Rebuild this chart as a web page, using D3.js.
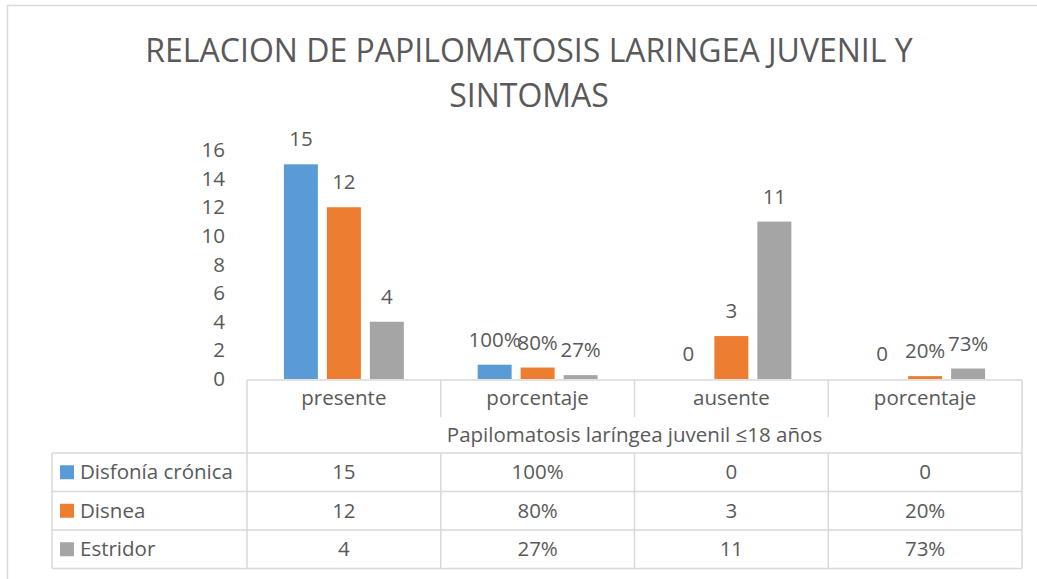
<!DOCTYPE html>
<html>
<head>
<meta charset="utf-8">
<style>
  body { margin: 0; background: #fff; }
  text { font-family: 'Open Sans', sans-serif; fill: #595959; }
</style>
</head>
<body>
<div id="chartContainer"></div>
<script src="https://cdn.jsdelivr.net/npm/d3@7"></script>
<script type="text/javascript">
  // data
  var categories = ["presente", "porcentaje", "ausente", "porcentaje"];
  var seriesNames = ["Disfonía crónica", "Disnea", "Estridor"];
  var seriesColors = ["#5B9BD5", "#ED7D31", "#A5A5A5"];
  var disfonia = [15, 1, 0, 0];
  var disnea = [12, 0.8, 3, 0.2];
  var estridor = [4, 0.27, 11, 0.73];
  var disfoniaLabels = ["15", "100%", "0", "0"];
  var disneaLabels = ["12", "80%", "3", "20%"];
  var estridorLabels = ["4", "27%", "11", "73%"];
  var yTicks = [0, 2, 4, 6, 8, 10, 12, 14, 16];
  var titleLines = ["RELACION DE PAPILOMATOSIS LARINGEA JUVENIL Y", "SINTOMAS"];
  var axisTitle = "Papilomatosis laríngea juvenil \u226418 años";

  var values = [disfonia, disnea, estridor];
  var labels = [disfoniaLabels, disneaLabels, estridorLabels];

  var W = 1037, H = 579;
  var fs = "20.5px";
  var svg = d3.select("#chartContainer").append("svg")
    .attr("width", W).attr("height", H);

  var gridColor = "#D9D9D9";

  // chart area border (right and bottom are cut off in the picture)
  svg.append("path")
    .attr("d", "M7.5," + H + "V5.5H" + W)
    .attr("fill", "none").attr("stroke", gridColor).attr("stroke-width", 1.5);

  // title
  svg.selectAll("text.title")
    .data(titleLines)
    .enter()
    .append("text")
      .attr("class", "title")
      .attr("x", 529)
      .attr("y", function (d, i) { return 62 + i * 45; })
      .attr("text-anchor", "middle")
      .style("font-size", "32px")
      .text(function (d) { return d; });

  var left = 247, right = 1022;
  var x0 = d3.scaleBand().domain(d3.range(categories.length)).range([left, right]);
  var x1 = d3.scaleBand().domain(d3.range(seriesNames.length))
    .range([0, x0.bandwidth()]).paddingInner(9 / 43).paddingOuter(0.858);
  var y = d3.scaleLinear().domain([0, 16]).range([379, 150]);

  // y axis (labels only)
  var yAxis = svg.append("g")
    .attr("transform", "translate(232,0)")
    .call(d3.axisLeft(y).tickValues(yTicks).tickSize(0).tickPadding(7));
  yAxis.select(".domain").remove();
  yAxis.selectAll("text")
    .style("font-size", fs)
    .style("font-family", "'Open Sans', sans-serif")
    .attr("fill", "#595959");

  // bars
  var groups = svg.selectAll("g.series")
    .data(values)
    .enter()
    .append("g")
      .attr("class", "series")
      .attr("fill", function (d, i) { return seriesColors[i]; });

  groups.each(function (vals, s) {
    var g = d3.select(this);
    g.selectAll("rect")
      .data(vals)
      .enter()
      .append("rect")
        .attr("x", function (d, i) { return x0(i) + x1(s); })
        .attr("y", function (d) { return y(d); })
        .attr("width", x1.bandwidth())
        .attr("height", function (d) { return y(0) - y(d); });
    g.selectAll("text")
      .data(vals)
      .enter()
      .append("text")
        .attr("x", function (d, i) { return x0(i) + x1(s) + x1.bandwidth() / 2; })
        .attr("y", function (d) { return y(d) - 18; })
        .attr("text-anchor", "middle")
        .style("font-size", fs)
        .text(function (d, i) { return labels[s][i]; });
  });

  // data table
  var tTop = 380, catBottom = 417, rowTop = 453, rowH = 38.5, legLeft = 52;
  var tBottom = rowTop + rowH * seriesNames.length;
  var lines = [];
  lines.push([left, tTop, right, tTop]);
  lines.push([left, tTop, left, tBottom]);
  lines.push([right, tTop, right, tBottom]);
  lines.push([legLeft, rowTop, legLeft, tBottom]);
  for (var r = 0; r <= seriesNames.length; r++) {
    lines.push([legLeft, rowTop + r * rowH, right, rowTop + r * rowH]);
  }
  for (var c = 1; c < categories.length; c++) {
    lines.push([x0(c), tTop, x0(c), catBottom]);
    lines.push([x0(c), rowTop, x0(c), tBottom]);
  }
  svg.append("g").selectAll("line")
    .data(lines)
    .enter()
    .append("line")
      .attr("x1", function (d) { return d[0]; })
      .attr("y1", function (d) { return d[1]; })
      .attr("x2", function (d) { return d[2]; })
      .attr("y2", function (d) { return d[3]; })
      .attr("stroke", gridColor)
      .attr("stroke-width", 1.5);

  // category names
  svg.selectAll("text.cat")
    .data(categories)
    .enter()
    .append("text")
      .attr("class", "cat")
      .attr("x", function (d, i) { return x0(i) + x0.bandwidth() / 2; })
      .attr("y", 405)
      .attr("text-anchor", "middle")
      .style("font-size", fs)
      .text(function (d) { return d; });

  svg.append("text")
    .attr("x", (left + right) / 2)
    .attr("y", 442)
    .attr("text-anchor", "middle")
    .style("font-size", fs)
    .text(axisTitle);

  // legend keys + table values
  seriesNames.forEach(function (name, s) {
    var cy = rowTop + s * rowH + rowH / 2;
    svg.append("rect")
      .attr("x", 60).attr("y", cy - 7)
      .attr("width", 14).attr("height", 14)
      .attr("fill", seriesColors[s]);
    svg.append("text")
      .attr("x", 80).attr("y", cy + 7)
      .style("font-size", fs)
      .text(name);
    svg.selectAll("text.val" + s)
      .data(labels[s])
      .enter()
      .append("text")
        .attr("class", "val" + s)
        .attr("x", function (d, i) { return x0(i) + x0.bandwidth() / 2; })
        .attr("y", cy + 7)
        .attr("text-anchor", "middle")
        .style("font-size", fs)
        .text(function (d) { return d; });
  });
</script>
</body>
</html>
